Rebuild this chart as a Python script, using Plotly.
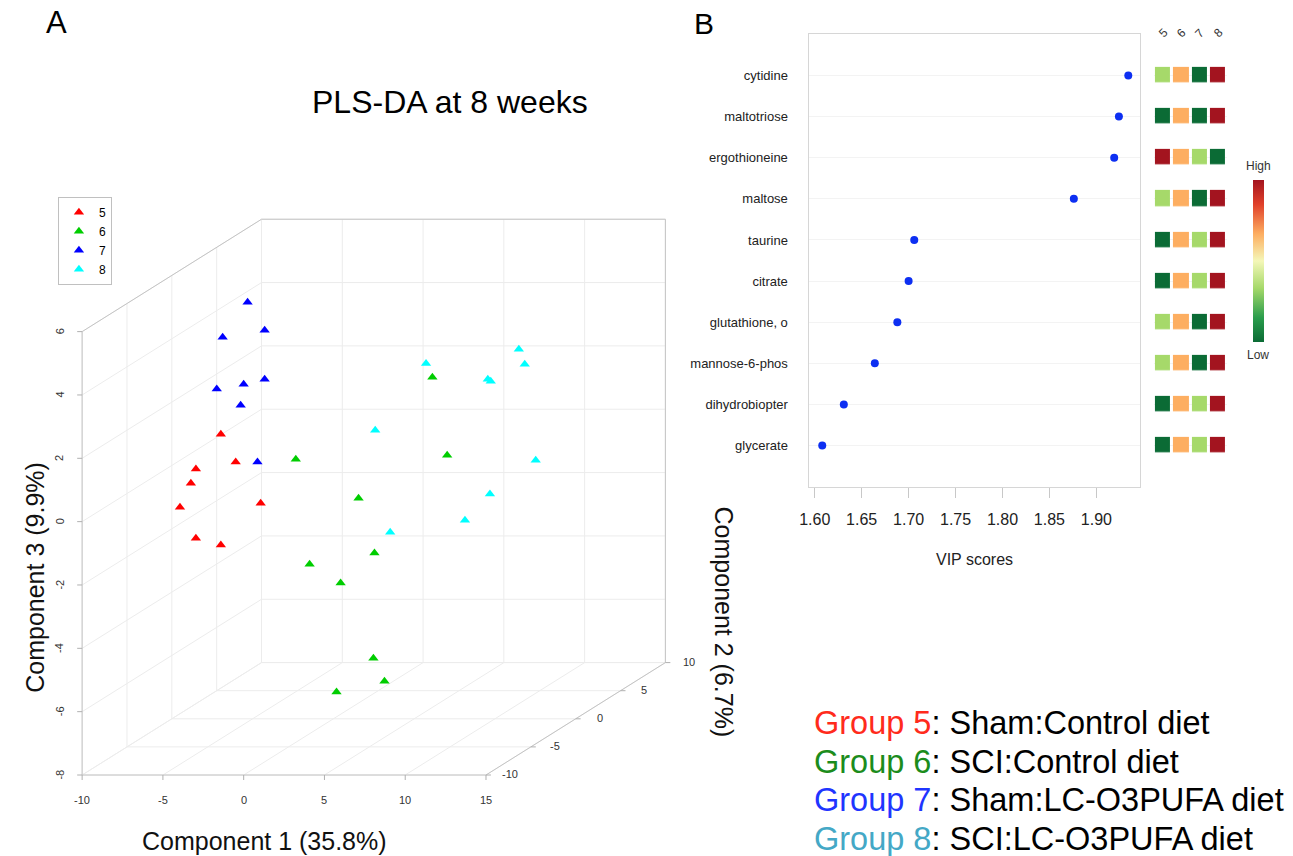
import plotly.graph_objects as go

W, H = 1293, 856
FONT = "Liberation Sans, Arial, sans-serif"

# ---------------- Panel A data: PLS-DA scores ----------------
group_names = ['5', '6', '7', '8']
group_colors = ['#ff0000', '#00cd00', '#0000ff', '#00ffff']

g5_comp1 = [-5.30, -7.40, -6.60, -4.38, -6.72, -3.39, -6.29, -5.30]
g5_comp2 = [-3, -2, -4, -3, -5, -2, -4, -3]
g5_comp3 = [1.52, 0.24, 0.15, 0.64, -0.43, -0.84, -1.59, -1.98]

g6_comp1 = [9.46, 9.82, 1.56, 4.89, 0.75, 4.89, 5.32, 5.81, 7.05, 2.97]
g6_comp2 = [-6, -5, -7, -6, -4, -8, -5, -6, -7, -5]
g6_comp3 = [3.85, 1.21, 1.44, 0.03, -2.41, -2.29, -1.88, -5.02, -5.57, -6.27]

g7_comp1 = [-5.31, -7.41, -3.70, -7.22, -6.11, -3.70, -5.74, -5.81]
g7_comp2 = [0, 1, -1, 0, 1, -1, 0, 2]
g7_comp3 = [5.15, 3.87, 4.45, 2.41, 2.39, 2.90, 1.90, -0.25]

g8_comp1 = [10.37, 4.07, 11.29, 8.45, 7.52, 2.59, 10.86, 8.58, 7.59, 1.85]
g8_comp2 = [2, 3, 1, 2, 4, 0, 3, 2, 1, 3]
g8_comp3 = [3.31, 2.69, 3.02, 2.37, 1.95, 1.11, -0.37, -1.26, -1.91, -2.64]

comp1_ticks = [-10, -5, 0, 5, 10, 15]
comp2_ticks = [-10, -5, 0, 5, 10]
comp3_ticks = [-8, -6, -4, -2, 0, 2, 4, 6]

# ---------------- Panel B data: VIP scores + group levels ----------------
metabolites = ['cytidine', 'maltotriose', 'ergothioneine', 'maltose', 'taurine',
               'citrate', 'glutathione, o', 'mannose-6-phos', 'dihydrobiopter', 'glycerate']
vip_scores = [1.934, 1.924, 1.919, 1.876, 1.706, 1.700, 1.688, 1.664, 1.631, 1.608]
vip_ticks = [1.60, 1.65, 1.70, 1.75, 1.80, 1.85, 1.90]
heat_cols = ['5', '6', '7', '8']
# relative level per group: 1 = low ... 4 = high
heat_levels = [
    [2, 3, 1, 4],
    [1, 3, 1, 4],
    [4, 3, 2, 1],
    [2, 3, 1, 4],
    [1, 3, 2, 4],
    [1, 3, 2, 4],
    [2, 3, 1, 4],
    [2, 3, 1, 4],
    [1, 3, 2, 4],
    [1, 3, 2, 4],
]

legend_lines = [
    ('Group 5', ': Sham:Control diet', '#ff2b1c'),
    ('Group 6', ': SCI:Control diet', '#1c8c1c'),
    ('Group 7', ': Sham:LC-O3PUFA diet', '#1f35ff'),
    ('Group 8', ': SCI:LC-O3PUFA diet', '#44a8c6'),
]

# ---------------- oblique 3D projection (scatterplot3d style) ----------------
XMIN, XMAX = comp1_ticks[0], comp1_ticks[-1]
YMIN, YMAX = comp2_ticks[0], comp2_ticks[-1]
ZMIN, ZMAX = comp3_ticks[0], comp3_ticks[-1]
OX, OY = 72.7, 775.0      # pixel of (XMIN, YMIN, ZMIN)
SX, SZ = 16.28, 31.67     # px per unit for comp1 / comp3
DX, DY = 9.04, 5.62       # depth shift per unit of comp2


def proj(x, y, z):
    return (OX + (x - XMIN) * SX + (y - YMIN) * DX,
            OY - (z - ZMIN) * SZ - (y - YMIN) * DY)


def seg_trace(segments, color, width=1):
    xs, ys = [], []
    for a, b in segments:
        pa, pb = proj(*a), proj(*b)
        xs += [pa[0], pb[0], None]
        ys += [pa[1], pb[1], None]
    return go.Scatter(x=xs, y=ys, mode='lines', line=dict(color=color, width=width),
                      hoverinfo='skip', showlegend=False, xaxis='x', yaxis='y')


fig = go.Figure()

# grid lines
grid = []
for x in comp1_ticks:
    grid.append(((x, YMIN, ZMIN), (x, YMAX, ZMIN)))      # floor
    grid.append(((x, YMAX, ZMIN), (x, YMAX, ZMAX)))      # back wall
for y in comp2_ticks:
    grid.append(((XMIN, y, ZMIN), (XMAX, y, ZMIN)))      # floor
    grid.append(((XMIN, y, ZMIN), (XMIN, y, ZMAX)))      # left wall
for z in comp3_ticks:
    grid.append(((XMIN, YMAX, z), (XMAX, YMAX, z)))      # back wall
    grid.append(((XMIN, YMIN, z), (XMIN, YMAX, z)))      # left wall
fig.add_trace(seg_trace(grid, '#ececec', 1))

# box edges
box = [
    ((XMIN, YMIN, ZMIN), (XMIN, YMIN, ZMAX)),
    ((XMIN, YMIN, ZMAX), (XMIN, YMAX, ZMAX)),
    ((XMIN, YMAX, ZMAX), (XMAX, YMAX, ZMAX)),
    ((XMAX, YMAX, ZMAX), (XMAX, YMAX, ZMIN)),
    ((XMIN, YMIN, ZMIN), (XMAX, YMIN, ZMIN)),
    ((XMAX, YMIN, ZMIN), (XMAX, YMAX, ZMIN)),
]
fig.add_trace(seg_trace(box, '#c4c4c4', 1))

# tick marks
tx, ty = [], []
for x in comp1_ticks:
    px, py = proj(x, YMIN, ZMIN)
    tx += [px, px, None]; ty += [py, py + 5, None]
for z in comp3_ticks:
    px, py = proj(XMIN, YMIN, z)
    tx += [px, px - 5, None]; ty += [py, py, None]
for y in comp2_ticks:
    px, py = proj(XMAX, y, ZMIN)
    tx += [px, px + 5, None]; ty += [py, py, None]
fig.add_trace(go.Scatter(x=tx, y=ty, mode='lines', line=dict(color='#b0b0b0', width=1),
                         hoverinfo='skip', showlegend=False, xaxis='x', yaxis='y'))

# points
groups = [(g5_comp1, g5_comp2, g5_comp3), (g6_comp1, g6_comp2, g6_comp3),
          (g7_comp1, g7_comp2, g7_comp3), (g8_comp1, g8_comp2, g8_comp3)]
for name, col, (c1, c2, c3) in zip(group_names, group_colors, groups):
    pts = [proj(a, b, c) for a, b, c in zip(c1, c2, c3)]
    fig.add_trace(go.Scatter(
        x=[p[0] for p in pts], y=[p[1] for p in pts], mode='markers', name=name,
        marker=dict(symbol='triangle-up', size=9, color=col, line=dict(width=0)),
        xaxis='x', yaxis='y'))

ann = []
# tick labels panel A
for x in comp1_ticks:
    px, py = proj(x, YMIN, ZMIN)
    ann.append(dict(x=px, y=800, text=str(x), showarrow=False, xref='x', yref='y',
                    font=dict(size=11, color='#333')))
for z in comp3_ticks:
    px, py = proj(XMIN, YMIN, z)
    ann.append(dict(x=50, y=py, text=str(z), showarrow=False, textangle=-90, xref='x', yref='y',
                    font=dict(size=11, color='#333')))
for y in comp2_ticks:
    px, py = proj(XMAX, y, ZMIN)
    ann.append(dict(x=px + 24, y=py - 1, text=str(y), showarrow=False, xref='x', yref='y',
                    font=dict(size=11, color='#333')))

ann += [
    dict(x=46.5, y=22, text='A', font=dict(size=31, color='#000')),
    dict(x=699, y=23, text='B', font=dict(size=30, color='#000')),
    dict(x=443, y=102, text='PLS-DA at 8 weeks', font=dict(size=32, color='#000')),
    dict(x=256, y=841, text='Component 1 (35.8%)', font=dict(size=25, color='#111')),
    dict(x=25, y=577, text='Component 3 (9.9%)', textangle=-90, font=dict(size=25, color='#111')),
    dict(x=720, y=622, text='Component 2 (6.7%)', textangle=90, font=dict(size=25, color='#111')),
    dict(x=972, y=559, text='VIP scores', font=dict(size=16, color='#222')),
    dict(x=1258, y=166, text='High', font=dict(size=12, color='#333')),
    dict(x=1258, y=355, text='Low', font=dict(size=12, color='#333')),
]
for i, c in enumerate(heat_cols):
    ann.append(dict(x=1162 + i * 18.5, y=33, text=c, textangle=-45,
                    font=dict(size=12, color='#333')))
for i, (g, rest, col) in enumerate(legend_lines):
    ann.append(dict(x=808, y=723 + i * 38.5, xanchor='left',
                    text=f"<span style='color:{col}'>{g}</span>{rest}",
                    font=dict(size=32.5, color='#000')))
for a in ann:
    a.setdefault('showarrow', False)
    a.setdefault('xref', 'x')
    a.setdefault('yref', 'y')

# ---------------- Panel B ----------------
rows = list(range(len(metabolites), 0, -1))
fig.add_trace(go.Scatter(x=vip_scores, y=rows, mode='markers', showlegend=False,
                         marker=dict(size=8, color='#0d2ff2'), xaxis='x2', yaxis='y2'))

heat_scale = [[0, '#0b6b35'], [0.15, '#2a9d4c'], [0.3333, '#a6d96a'], [0.5, '#f4f7b8'],
              [0.6667, '#fdae61'], [0.85, '#e0402a'], [1, '#a3141f']]
fig.add_trace(go.Heatmap(
    z=heat_levels, x=heat_cols, y=rows, zmin=1, zmax=4, colorscale=heat_scale,
    xgap=3, ygap=25.6, xaxis='x3', yaxis='y2', hoverinfo='skip',
    colorbar=dict(x=1252.7 / W, xanchor='left', xpad=0, y=1 - 261 / H, yanchor='middle',
                  ypad=10, thickness=11, thicknessmode='pixels', len=182, lenmode='pixels',
                  outlinewidth=0, showticklabels=False, ticks='')))

bx0, bx1, by0, by1 = 805.7, 1139.3, 34.3, 486.7
fig.update_layout(
    width=W, height=H, margin=dict(l=0, r=0, t=0, b=0),
    paper_bgcolor='white', plot_bgcolor='rgba(0,0,0,0)',
    font=dict(family=FONT),
    xaxis=dict(domain=[0, 1], range=[0, W], visible=False, fixedrange=True),
    yaxis=dict(domain=[0, 1], range=[H, 0], visible=False, fixedrange=True),
    xaxis2=dict(domain=[bx0 / W, bx1 / W], range=[1.5944, 1.947], anchor='y2',
                tickvals=vip_ticks, tickformat='.2f', ticks='outside', ticklen=10,
                tickcolor='#c8c8c8', showgrid=False, zeroline=False, showline=True,
                mirror=True, linecolor='#d6d6d6', ticklabelstandoff=8,
                tickfont=dict(size=16, color='#222')),
    yaxis2=dict(domain=[1 - by1 / H, 1 - by0 / H], range=[0, 11], anchor='x2',
                tickvals=rows, ticktext=metabolites, showgrid=True, gridcolor='#f3f3f3',
                zeroline=False, showline=True, mirror=True, linecolor='#d6d6d6',
                ticks='', ticklabelstandoff=18, tickfont=dict(size=13, color='#222')),
    xaxis3=dict(domain=[1152.8 / W, 1226.8 / W], range=[-0.5, 3.5], anchor='y2',
                visible=False),
    legend=dict(x=48.3 / W, y=1 - 196.7 / H, xanchor='left', yanchor='top',
                bordercolor='#c0c0c0', borderwidth=1, bgcolor='white', itemwidth=30,
                font=dict(size=12, color='#000'), tracegroupgap=0),
    annotations=ann,
)

fig.write_html("out.html", config={'displayModeBar': False},
               post_script="document.body.style.margin='0';document.body.style.overflow='hidden';")
